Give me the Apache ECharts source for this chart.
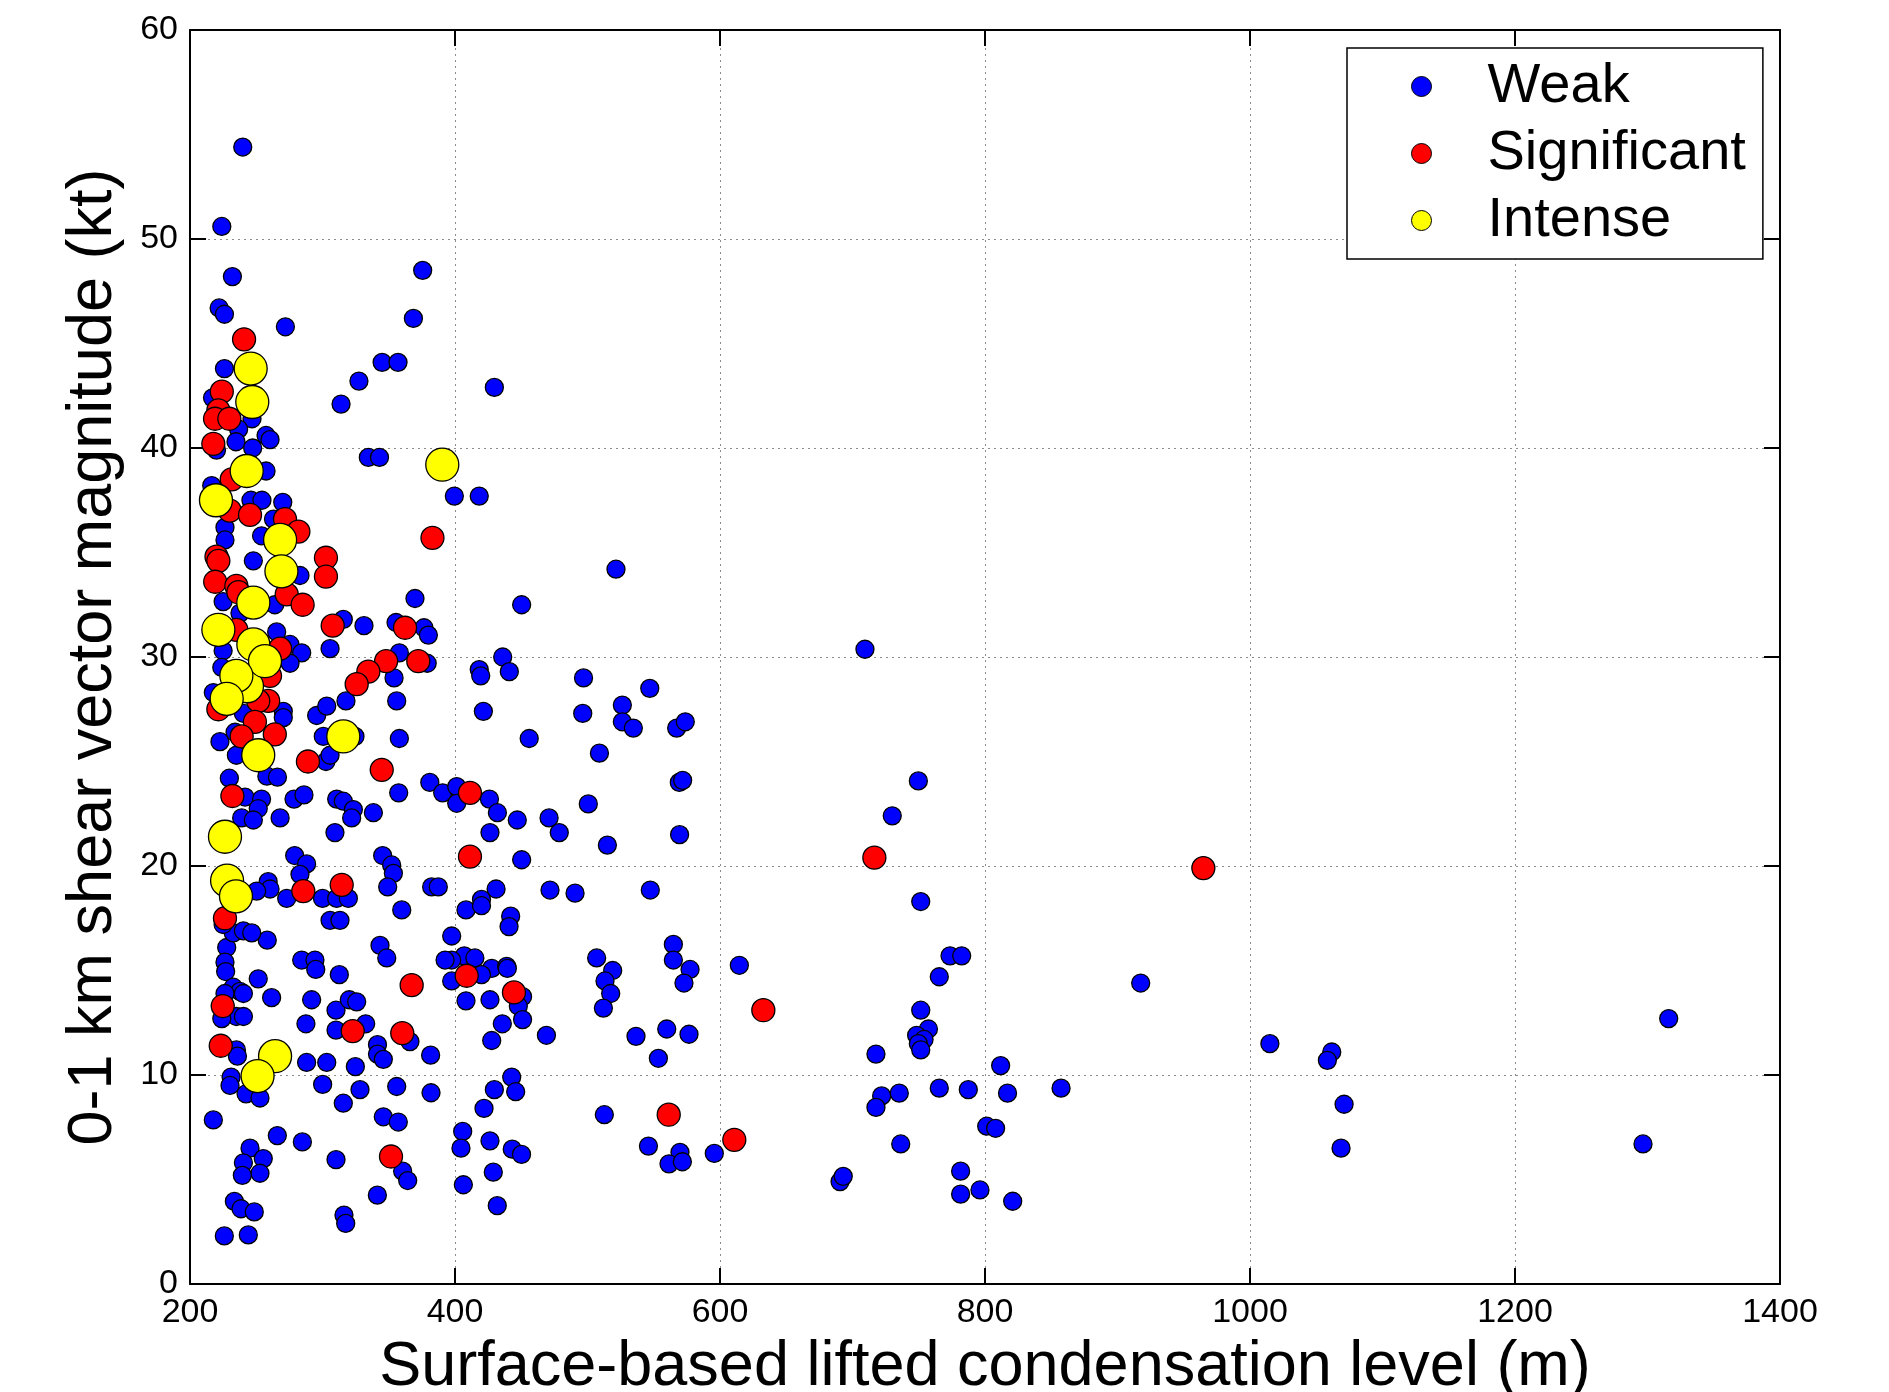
<!DOCTYPE html>
<html>
<head>
<meta charset="utf-8">
<script src="https://cdn.jsdelivr.net/npm/echarts@6/dist/echarts.min.js"></script>
<style>
  html, body { margin: 0; padding: 0; background: #fff; }
  #chart { width: 1889px; height: 1392px; }
</style>
</head>
<body>
<div id="chart"></div>
<script>
// [LCL (m), 0-1 km shear (kt)]
const weakData = [
  [239.8, 54.4], [224, 50.6], [232, 48.2], [222, 46.7], [226, 46.4], [272, 45.8], [375.6, 48.5], [368.6, 46.2],
  [345, 44.1], [357, 44.1], [327.5, 43.2], [314, 42.1], [429.7, 42.9], [226, 43.8], [246.8, 41.4], [236.7, 40.9],
  [234.7, 40.3], [257.4, 40.6], [260.4, 40.4], [247.3, 40.0], [220, 39.9], [217, 42.4], [334.6, 39.55], [343, 39.55],
  [257.4, 38.9], [216.4, 38.2], [399.5, 37.7], [418.3, 37.7], [246, 37.5], [254.3, 37.5], [270, 37.4],
  [226.4, 36.2], [226.4, 35.6], [263, 36.6], [254, 35.8], [247.8, 34.6], [283, 33.9], [225, 32.65], [264, 32.5],
  [237.7, 32.1], [315.7, 31.8], [331.3, 31.5], [265.4, 31.2], [305.7, 30.4], [275.5, 30.6], [284.3, 30.2],
  [275.5, 29.7], [225, 30.3], [224, 29.5], [270.4, 27.4], [270.4, 27.1], [240.3, 27.3], [222.6, 25.95], [234, 26.4],
  [235, 25.3], [229.7, 24.2], [258, 24.3], [266, 24.25], [241.5, 23.3], [254, 23.2], [251.5, 22.75], [239, 22.3],
  [247.8, 22.2], [268, 22.3], [278.5, 23.2], [286, 23.4], [302.6, 25.0], [305.7, 25.3], [300.6, 26.2], [324.5, 26.2],
  [295.6, 27.2], [303.2, 27.65], [317.7, 27.9], [310.7, 23.2], [315.7, 23.1], [323.3, 22.7], [322, 22.3],
  [338.4, 22.55], [309.4, 21.6], [217.6, 28.3],
  [369.8, 32.8], [450.3, 32.5], [355.5, 31.65], [376.6, 31.4], [379.9, 31.05], [358, 30.2], [379, 29.7], [354, 29.0],
  [356, 27.9], [358, 26.1], [436, 30.0], [418.3, 29.4], [419.4, 29.1], [441, 29.3], [497, 29.0], [421.4, 27.4],
  [496.4, 27.3], [456, 26.1], [357.5, 23.5], [381, 24.0], [390.7, 23.5], [401.3, 23.8], [401.3, 23.0], [426, 23.2],
  [432, 22.55], [447, 22.2], [471, 22.3], [478.7, 21.6], [500.6, 22.97], [426.4, 21.6], [450.3, 20.3], [279, 20.5],
  [288, 20.1], [283, 19.6], [345.4, 20.5], [352.2, 20.05], [353.5, 19.65], [349.2, 19.0], [259, 19.25], [260.4, 18.9],
  [382.4, 19.0], [387.4, 19.0], [431, 18.9], [471.7, 18.85], [490.6, 18.7],
  [521.5, 34.2], [547, 28.5], [526.3, 27.7], [526.3, 26.9], [534.6, 26.6], [567.3, 26.6], [573.8, 26.9], [509, 25.4],
  [569.3, 24.0], [571.8, 24.1], [515, 21.0], [569.5, 21.5], [547.4, 18.85], [420, 18.4],
  [408.3, 17.9], [420, 18.1], [442, 17.6], [440.8, 17.1], [397.5, 16.65], [506.9, 15.6], [564.8, 16.25], [564.8, 15.5],
  [577.4, 15.05], [572.8, 14.4], [614.6, 15.25], [519, 15.0], [513.2, 14.5], [517.5, 13.9], [512, 13.2], [407, 15.7],
  [415, 15.6], [397.5, 15.5], [427.7, 15.1], [439, 15.2], [439.5, 15.1], [420, 14.8], [451, 13.75], [447.8, 13.3],
  [408.3, 13.55], [426.4, 13.6], [451, 12.65], [435.7, 12.45], [427.7, 11.65], [469, 11.9], [397.5, 14.5],
  [536.6, 11.85], [559.8, 12.2], [576.6, 11.95], [553.5, 10.8], [442.8, 9.9], [445.8, 9.2], [429.7, 9.3],
  [421.9, 8.4], [512.7, 8.1], [405.8, 7.3], [404.5, 6.5], [426.4, 6.85], [443.2, 6.45], [450.2, 6.2], [428.9, 5.35],
  [406.3, 4.75], [431.9, 3.75], [546, 6.6], [569.8, 6.3], [561.5, 5.75], [571.6, 5.85], [595.7, 6.25], [690.6, 4.9],
  [693, 5.15],
  [359.8, 17.9], [392.5, 15.5], [343.4, 16.2], [348.5, 15.6], [284.3, 15.5], [294.3, 15.5], [294.9, 15.05],
  [312.7, 14.8], [258.3, 16.45], [227.7, 16.1], [226.4, 15.4], [226.9, 14.95], [251.5, 14.6], [261.6, 13.7],
  [232.7, 14.2], [237.7, 14.0], [240.3, 13.9], [226.4, 13.9], [235, 12.8], [240.3, 12.8], [291.8, 13.6],
  [287.5, 12.45], [310.2, 13.1], [320.2, 13.6], [325.8, 13.5], [310.2, 12.15], [332.6, 12.45], [366, 11.6],
  [341.5, 11.45], [341.5, 11.0], [345.9, 10.75], [381.6, 10.95], [235, 11.2], [235.8, 10.9], [231, 9.9], [230.2, 9.5],
  [242.3, 9.1], [252.8, 8.9], [288, 10.6], [303.2, 10.6], [324.8, 10.4], [300.1, 9.55], [328.3, 9.3], [315.7, 8.65],
  [356, 9.45], [381.9, 9.15], [217.6, 7.85], [265.9, 7.1], [284.8, 6.8], [345.9, 8.0], [357.2, 7.75], [245.3, 6.5],
  [240.3, 5.8], [255.3, 6.0], [252.8, 5.3], [239.5, 5.2], [310.2, 5.95], [360.5, 5.4], [364.3, 4.95], [341.4, 4.25],
  [233.5, 3.95], [238.5, 3.6], [248.5, 3.45], [316.2, 3.3], [317.5, 2.9], [225.9, 2.3], [244, 2.35],
  [250.3, 18.8], [273, 18.45], [300, 18.45], [310.7, 18.45], [319.5, 18.45], [232.7, 16.8], [240.3, 16.9],
  [246.6, 16.8], [225, 17.2], [305.7, 17.4], [313.2, 17.4], [224, 12.7],
  [709.4, 30.37], [749.7, 24.07], [730, 22.4], [751.5, 18.3], [773.6, 15.7], [782.4, 15.7], [765.5, 14.7],
  [917.5, 14.4], [751.5, 13.1], [757.3, 12.2], [748.4, 11.9], [754, 11.7], [749.7, 11.5], [751.5, 11.2],
  [717.7, 11.0], [1015, 11.5], [1061.7, 11.1], [1058.4, 10.7], [811.8, 10.45], [722, 9.0], [717.7, 8.45],
  [735.3, 9.13], [765.5, 9.37], [787.4, 9.3], [817, 9.13], [857.4, 9.37], [801.3, 7.55], [808, 7.45], [1071, 8.6],
  [736.4, 6.7], [1068.7, 6.5], [781.6, 5.4], [781.6, 4.3], [796.2, 4.5], [820.9, 3.96], [1316, 12.7], [1296.6, 6.7]
]

const significantData = [
  [240.8, 45.2], [224, 42.7], [221.4, 41.8], [218.9, 41.4], [229.7, 41.4], [217.6, 40.2], [231.5, 38.5],
  [230, 37.0], [245.3, 36.8], [271.7, 36.6], [281.8, 36.0], [383, 35.7], [220, 34.8], [221.4, 34.6],
  [302.6, 34.75], [302.6, 33.85], [219, 33.6], [235, 33.4], [236.5, 33.1], [273, 33.0], [285, 32.5], [235, 31.3],
  [307.7, 31.5], [362.3, 31.4], [268, 30.4], [348, 29.8], [372.3, 29.8], [334.6, 29.3], [325.8, 28.7],
  [260.4, 29.1], [259, 27.9], [251.5, 27.9], [221.4, 27.5], [249, 26.9], [239, 26.2], [264, 26.3], [289, 25.0],
  [344.7, 24.6], [411.3, 23.5], [232, 23.35], [411.3, 20.45], [716.5, 20.4], [964.8, 19.9], [314.5, 19.1],
  [285.5, 18.8], [226.4, 17.5], [408.8, 14.75], [444.5, 13.95], [367.3, 14.3], [224.7, 13.3], [632.7, 13.1],
  [322.8, 12.1], [360.2, 12.0], [223.2, 11.4], [561.3, 8.1], [610.8, 6.9], [351.7, 6.1]
]

const intenseData = [
  [245.8, 43.8], [247, 42.2], [242.8, 38.9], [390.4, 39.2], [219.6, 37.5], [268, 35.6], [269, 34.1],
  [247.8, 32.6], [221.4, 31.3], [247.8, 30.6], [243, 28.6], [256.6, 29.8], [235, 29.1], [227.7, 28.0],
  [251.5, 25.3], [315.7, 26.2], [226.4, 21.4], [228, 19.3], [234.7, 18.55], [264.2, 10.9], [251, 9.95]
]

const xTicks = [200, 400, 600, 800, 1000, 1200, 1400]
const yTicks = [0, 10, 20, 30, 40, 50, 60]

const myChart = echarts.init(document.getElementById('chart'))

const fontFamily = 'Liberation Sans, Arial, sans-serif'

function axisBase(pos, ticks, showLabel) {
    return {
        type: 'value',
        position: pos,
        min: ticks[0],
        max: ticks[ticks.length - 1],
        interval: ticks[1] - ticks[0],
        axisLine: { show: true, onZero: false, lineStyle: { color: '#000', width: 2 } },
        axisTick: { show: true, inside: true, length: 16, lineStyle: { color: '#000', width: 2 } },
        axisLabel: {
            show: showLabel,
            color: '#000',
            fontSize: 34,
            fontFamily: fontFamily,
            formatter: function (value) {
                return String(value)
            }
        },
        splitLine: { show: false }
    }
}

const xMain = axisBase('bottom', xTicks, true)
xMain.axisLabel.margin = 12
xMain.splitLine = { show: true, lineStyle: { color: '#8c8c8c', width: 1, type: [2, 4] } }
xMain.name = 'Surface-based lifted condensation level (m)'
xMain.nameLocation = 'middle'
xMain.nameGap = 52
xMain.nameTextStyle = { color: '#000', fontSize: 63, fontFamily: fontFamily, verticalAlign: 'top' }

const yMain = axisBase('left', yTicks, true)
yMain.axisLabel.margin = 12
yMain.splitLine = { show: true, lineStyle: { color: '#8c8c8c', width: 1, type: [2, 4] } }
yMain.name = '0-1 km shear vector magnitude (kt)'
yMain.nameLocation = 'middle'
yMain.nameGap = 65
yMain.nameTextStyle = { color: '#000', fontSize: 63, fontFamily: fontFamily, verticalAlign: 'bottom' }

const pointStyle = function (color) {
    return { color: color, borderColor: '#000', borderWidth: 1.3, opacity: 1 }
}

myChart.setOption({
    animation: false,
    backgroundColor: '#fff',
    grid: {
        left: 190,
        right: 109,
        top: 30,
        bottom: 108,
        containLabel: false,
        outerBoundsMode: 'none'
    },
    legend: {
        data: ['Weak', 'Significant', 'Intense'],
        orient: 'vertical',
        left: 1347,
        top: 48,
        itemWidth: 20,
        itemHeight: 20,
        itemGap: 0,
        padding: [5, 17, 5, 64],
        backgroundColor: '#fff',
        borderColor: '#000',
        borderWidth: 1.5,
        borderRadius: 0,
        icon: 'circle',
        itemStyle: { borderColor: '#000', borderWidth: 1 },
        textStyle: {
            color: '#000',
            fontSize: 56,
            fontFamily: fontFamily,
            lineHeight: 67,
            padding: [0, 0, 0, 51]
        }
    },
    xAxis: [xMain, axisBase('top', xTicks, false)],
    yAxis: [yMain, axisBase('right', yTicks, false)],
    series: [
        {
            name: 'Weak',
            type: 'scatter',
            symbol: 'circle',
            symbolSize: 18,
            data: weakData,
            itemStyle: pointStyle('#0000ff'),
            z: 2
        },
        {
            name: 'Significant',
            type: 'scatter',
            symbol: 'circle',
            symbolSize: 23,
            data: significantData,
            itemStyle: pointStyle('#ff0000'),
            z: 3
        },
        {
            name: 'Intense',
            type: 'scatter',
            symbol: 'circle',
            symbolSize: 33,
            data: intenseData,
            itemStyle: pointStyle('#ffff00'),
            z: 4
        }
    ]
})
</script>
</body>
</html>
